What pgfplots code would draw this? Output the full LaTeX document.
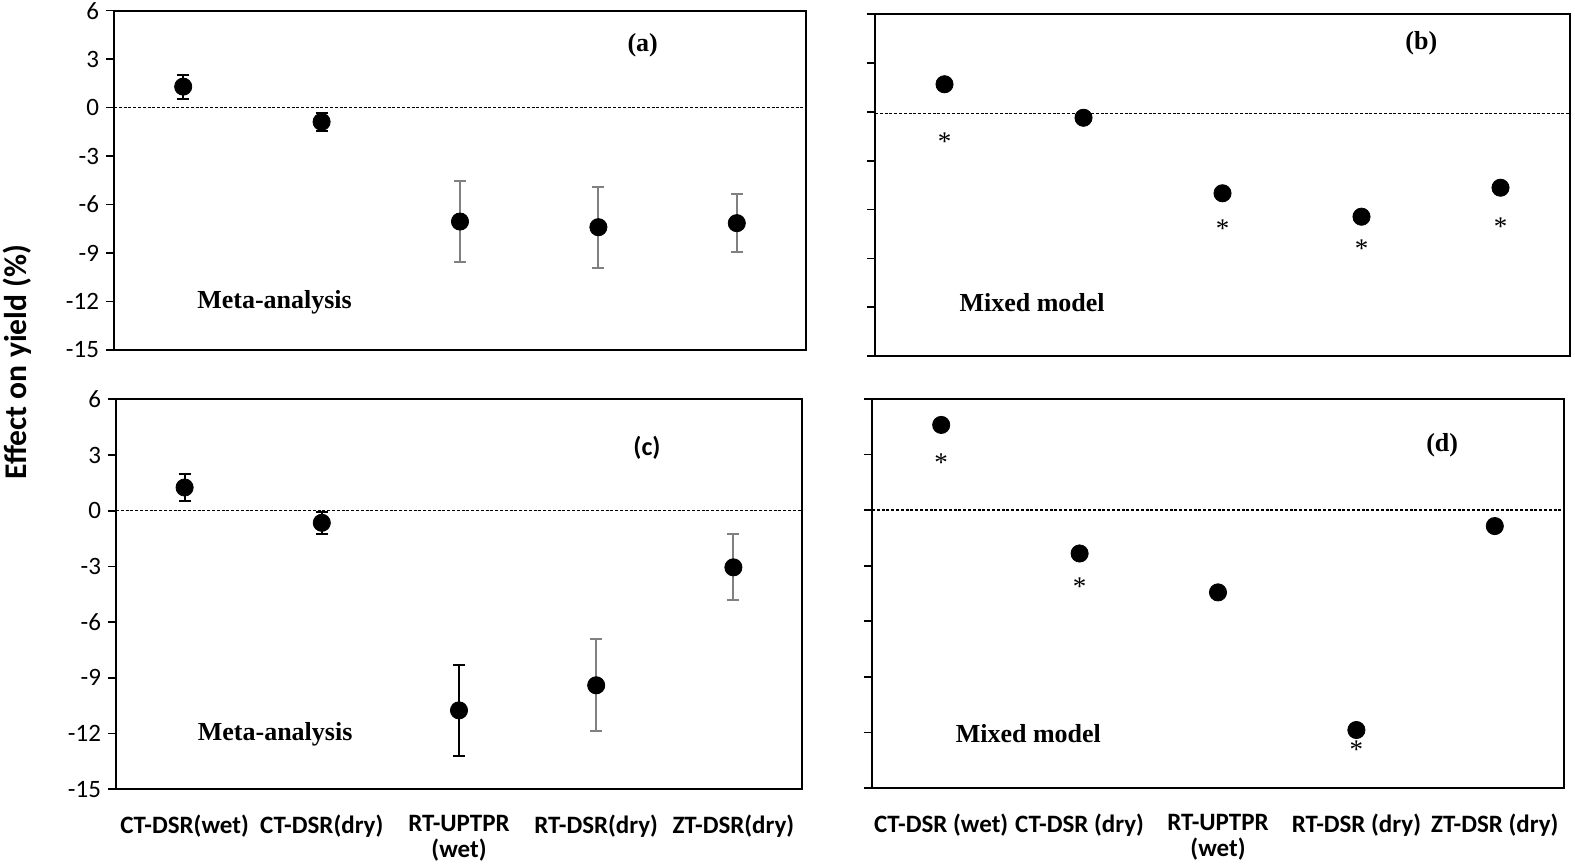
\documentclass[border=0pt]{standalone}
\usepackage{fontspec}
\setmainfont{Liberation Serif}
\newfontfamily\calfont{Carlito}
\usepackage{pgfplots}
\pgfplotsset{compat=1.18}
\usetikzlibrary{plotmarks}
\definecolor{barg}{RGB}{128,128,128}

\tikzset{lbl/.style={font=\bfseries\fontsize{13}{13}\selectfont}}
\pgfplotsset{
  panel/.style={
    scale only axis, anchor=south west,
    xmin=0.5, xmax=5.5, ymin=-15, ymax=6,
    ytick={-15,-12,...,6}, xtick={1,...,5},
    tick pos=left, tick align=outside,
    major tick length=4pt,
    major x tick style={draw=none},
    y tick style={black, line width=0.8pt},
    axis line style={line width=0.9pt},
    ticklabel style={font=\calfont\fontsize{12.5}{13}\selectfont},
    xticklabel style={font=\calfont\bfseries\fontsize{12.5}{13.2}\selectfont, align=center, yshift=-5.5pt},
    /pgf/number format/assume math mode=true,
    clip=false,
  },
  dot/.style={only marks, mark=*, mark size=4.3pt, black},
  zero/.style={black, line width=0.7pt, dash pattern=on 1.5pt off 0.9pt},
  star/.style={only marks, mark=text,
    text mark={\fontsize{13.5}{13.5}\selectfont\smash{\raisebox{-0.46em}{*}}}},
  ebar/.style={error bars/.cd, y dir=both, y explicit,
    error bar style={line width=1pt, #1},
    error mark options={rotate=90, line width=1pt, mark size=3pt, #1}},
}

\begin{document}
\begin{tikzpicture}
\useasboundingbox (0,0) rectangle (787.5pt,432.5pt);

% (a) meta-analysis, top left
\begin{axis}[panel, at={(57pt,257.5pt)}, width=346pt, height=169.65pt, xticklabels={}]
  \addplot[zero] coordinates {(0.5,0) (5.5,0)};
  \addplot[dot, ebar=black] coordinates {(1,1.3) +- (0,0.75) (2,-0.88) +- (0,0.57)};
  \addplot[dot, ebar=barg] coordinates {(3,-7.05) +- (0,2.5) (4,-7.4) +- (0,2.5) (5,-7.15) +- (0,1.8)};
  \node[lbl] at (axis cs:1.66,-12.06) {Meta-analysis};
  \node[lbl] at (axis cs:4.32,3.86) {(a)};
\end{axis}

% (b) mixed model, top right
\begin{axis}[panel, at={(437.5pt,254.5pt)}, width=347.5pt, height=170.85pt, xticklabels={}, yticklabels={}]
  \addplot[zero] coordinates {(0.5,-0.1) (5.5,-0.1)};
  \addplot[dot] coordinates {(1,1.7) (2,-0.36) (3,-5.0) (4,-6.44) (5,-4.66)};
  \addplot[star] coordinates {(1,-1.6) (3,-6.95) (4,-8.2) (5,-6.85)};
  \node[lbl] at (axis cs:1.63,-11.75) {Mixed model};
  \node[lbl] at (axis cs:4.43,4.23) {(b)};
\end{axis}

% (c) meta-analysis, bottom left
\begin{axis}[panel, at={(58pt,37.85pt)}, width=343pt, height=195pt,
  xticklabels={CT-DSR(wet), CT-DSR(dry), {RT-UPTPR\\(wet)}, RT-DSR(dry), ZT-DSR(dry)}]
  \addplot[zero] coordinates {(0.5,0) (5.5,0)};
  \addplot[dot, ebar=black] coordinates {(1,1.25) +- (0,0.72) (2,-0.65) +- (0,0.6) (3,-10.75) +- (0,2.45)};
  \addplot[dot, ebar=barg] coordinates {(4,-9.4) +- (0,2.47) (5,-3.05) +- (0,1.78)};
  \node[lbl] at (axis cs:1.66,-12.03) {Meta-analysis};
  \node[font=\calfont\bfseries\fontsize{13}{13}\selectfont] at (axis cs:4.37,3.41) {(c)};
\end{axis}

% (d) mixed model, bottom right
\begin{axis}[panel, at={(436pt,38.5pt)}, width=346pt, height=194.5pt, yticklabels={},
  xticklabels={CT-DSR (wet), CT-DSR (dry), {RT-UPTPR\\(wet)}, RT-DSR (dry), ZT-DSR (dry)}]
  \addplot[zero] coordinates {(0.5,0) (5.5,0)};
  \addplot[dot] coordinates {(1,4.6) (2,-2.34) (3,-4.44) (4,-11.87) (5,-0.86)};
  \addplot[star] coordinates {(1,2.74) (2,-3.95) (4,-12.74)};
  \node[lbl] at (axis cs:1.63,-12.04) {Mixed model};
  \node[lbl] at (axis cs:4.62,3.5) {(d)};
\end{axis}

\node[rotate=90, font=\calfont\bfseries\fontsize{15.8}{16}\selectfont] at (8.5pt,251.5pt) {Effect on yield (\%)};
\end{tikzpicture}
\end{document}
